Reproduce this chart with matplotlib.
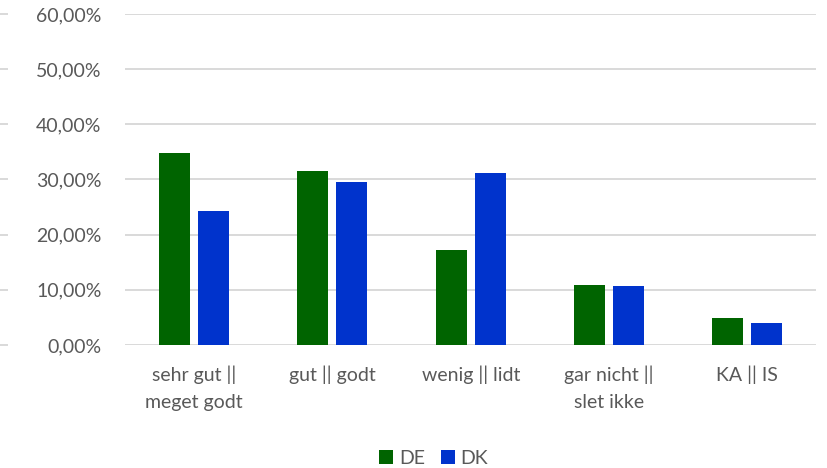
import numpy as np
import matplotlib.pyplot as plt
from matplotlib.ticker import FuncFormatter

categories = ['sehr gut ||\nmeget godt', 'gut || godt', 'wenig || lidt',
              'gar nicht ||\nslet ikke', 'KA || IS']
de_values = [0.348, 0.316, 0.173, 0.108, 0.048]
dk_values = [0.243, 0.295, 0.311, 0.106, 0.039]
series_names = ['DE', 'DK']

plt.rcParams['font.family'] = ['Lato', 'DejaVu Sans']
text_color = '#595959'
fs = 14

fig = plt.figure(figsize=(8.28, 4.68), dpi=100)
ax = fig.add_axes([0.151, 0.263, 0.835, 0.707])

x = np.arange(len(categories))
w = 0.224
off = 0.141
ax.bar(x - off, de_values, w, color='#006400', label=series_names[0], zorder=3)
ax.bar(x + off, dk_values, w, color='#0033CC', label=series_names[1], zorder=3)

ax.set_xlim(-0.5, len(categories) - 0.5)
ax.set_ylim(0, 0.6)
ax.set_yticks(np.arange(0, 0.61, 0.1))
ax.yaxis.set_major_formatter(FuncFormatter(lambda v, _: f'{v*100:.2f}%'.replace('.', ',')))
ax.set_xticks(x)
ax.set_xticklabels(categories, linespacing=1.7)
ax.grid(axis='y', color='#d9d9d9', linewidth=1.4, zorder=0)
for s in ax.spines.values():
    s.set_visible(False)
ax.tick_params(axis='both', length=0, labelsize=fs, colors=text_color)
ax.tick_params(axis='y', pad=17)
ax.tick_params(axis='x', pad=15)

# small dashes at the left edge
for v in np.arange(0, 0.61, 0.1):
    ax.plot([-0.151 / 0.835, -0.143 / 0.835], [v, v], transform=ax.get_yaxis_transform(),
            color='#d9d9d9', lw=1.4, clip_on=False)

fig.legend(loc='center', bbox_to_anchor=(0.5236, 0.02), ncol=2, frameon=False,
           fontsize=fs, handlelength=0.72, handleheight=0.72, handletextpad=0.3,
           columnspacing=0.8, labelcolor=text_color, borderpad=0)

fig.savefig('out.png', dpi=100)
